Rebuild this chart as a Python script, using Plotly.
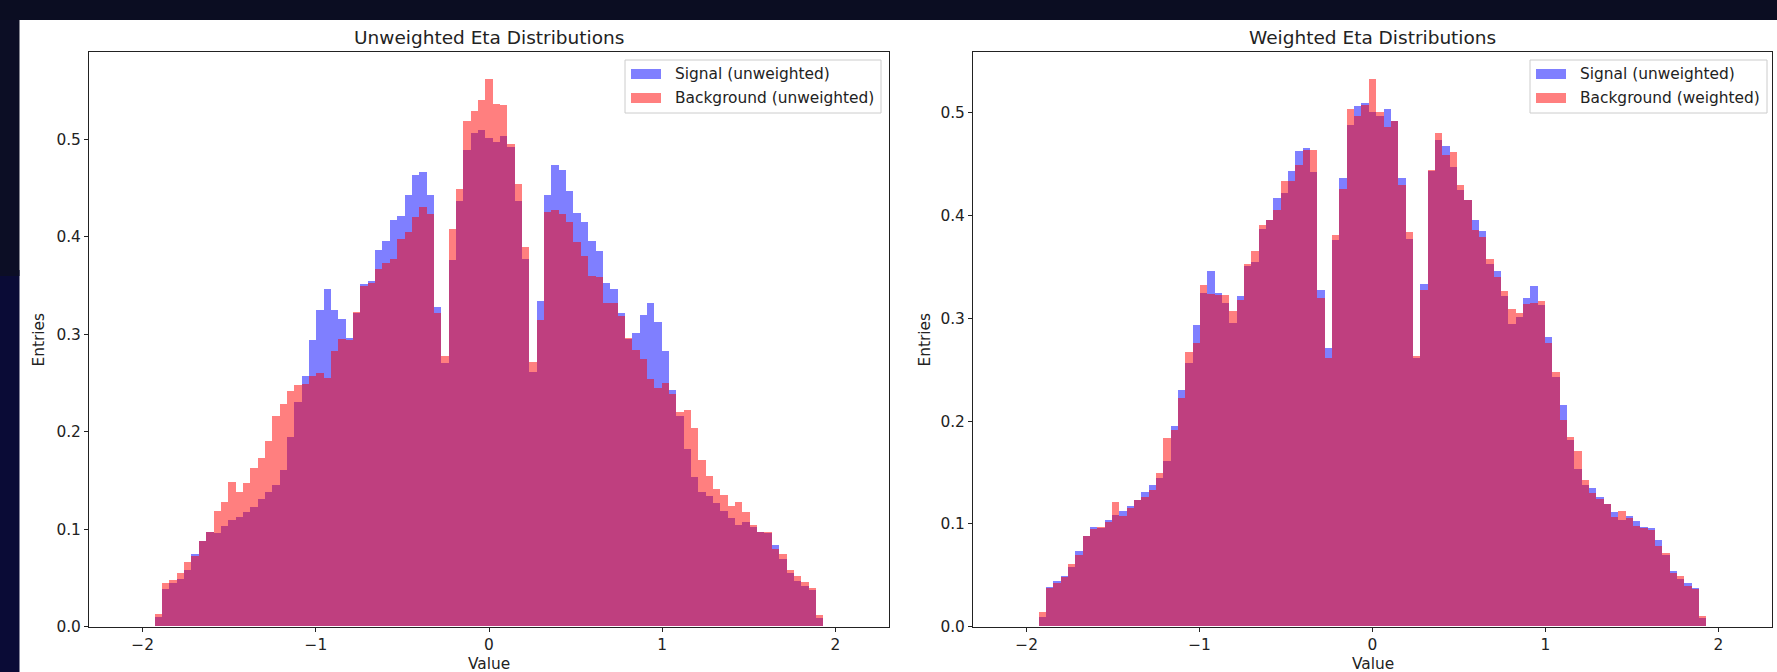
import numpy as np
import plotly.graph_objects as go

# Histogram binning: 99 equal bins on [-2.1, 2.1]; only bins 4..94 are populated
BIN_EDGES = np.linspace(-2.1, 2.1, 100)
FIRST_FILLED_BIN = 4

# Normalised entries per populated bin
signal = [
    0.0095, 0.0379, 0.0446, 0.0489, 0.0581, 0.0738, 0.0881, 0.0969, 0.0958, 0.1034,
    0.1088, 0.1127, 0.1174, 0.1226, 0.1307, 0.1376, 0.1446, 0.1609, 0.1947, 0.2301,
    0.2567, 0.2934, 0.3249, 0.3459, 0.3245, 0.3151, 0.2957, 0.3218, 0.3511, 0.3542,
    0.3865, 0.3955, 0.4174, 0.4216, 0.4428, 0.4630, 0.4659, 0.4426, 0.3274, 0.2706,
    0.3763, 0.4367, 0.4884, 0.5067, 0.5094, 0.5007, 0.4969, 0.5034, 0.4922, 0.4367,
    0.3766, 0.2614, 0.3335, 0.4428, 0.4732, 0.4679, 0.4472, 0.4244, 0.4149, 0.3955,
    0.3847, 0.3523, 0.3459, 0.3218, 0.2944, 0.3015, 0.3196, 0.3317, 0.3126, 0.2821,
    0.2430, 0.2157, 0.1819, 0.1530, 0.1374, 0.1343, 0.1264, 0.1187, 0.1113, 0.1039,
    0.1071, 0.1022, 0.0964, 0.0957, 0.0838, 0.0694, 0.0543, 0.0464, 0.0419, 0.0373,
    0.0083,
]

background_unweighted = [
    0.0129, 0.0443, 0.0480, 0.0543, 0.0657, 0.0720, 0.0879, 0.0971, 0.1182, 0.1274,
    0.1477, 0.1374, 0.1470, 0.1625, 0.1728, 0.1902, 0.2160, 0.2278, 0.2411, 0.2474,
    0.2485, 0.2566, 0.2596, 0.2548, 0.2825, 0.2947, 0.2936, 0.3231, 0.3493, 0.3523,
    0.3663, 0.3730, 0.3767, 0.3977, 0.4044, 0.4202, 0.4302, 0.4228, 0.3213, 0.2770,
    0.4080, 0.4487, 0.5181, 0.5288, 0.5399, 0.5613, 0.5362, 0.5347, 0.4948, 0.4535,
    0.3888, 0.2714, 0.3139, 0.4254, 0.4273, 0.4228, 0.4147, 0.3944, 0.3796, 0.3593,
    0.3582, 0.3316, 0.3316, 0.3187, 0.2962, 0.2836, 0.2740, 0.2537, 0.2448, 0.2493,
    0.2382, 0.2197, 0.2216, 0.2031, 0.1706, 0.1540, 0.1411, 0.1348, 0.1237, 0.1274,
    0.1171, 0.1045, 0.0971, 0.0968, 0.0794, 0.0739, 0.0580, 0.0517, 0.0454, 0.0399,
    0.0122,
]

background_weighted = [
    0.0140, 0.0378, 0.0420, 0.0480, 0.0606, 0.0694, 0.0883, 0.0949, 0.0970, 0.1016,
    0.1208, 0.1079, 0.1149, 0.1226, 0.1261, 0.1331, 0.1489, 0.1832, 0.1909, 0.2224,
    0.2673, 0.2757, 0.3327, 0.3233, 0.3222, 0.3222, 0.3065, 0.3180, 0.3527, 0.3650,
    0.3905, 0.3958, 0.4056, 0.4333, 0.4336, 0.4490, 0.4641, 0.4641, 0.3194, 0.2616,
    0.3807, 0.4256, 0.5033, 0.4963, 0.5079, 0.5324, 0.5009, 0.4862, 0.4914, 0.4298,
    0.3835, 0.2634, 0.3275, 0.4438, 0.4799, 0.4588, 0.4613, 0.4291, 0.4151, 0.3860,
    0.3790, 0.3573, 0.3398, 0.3264, 0.3089, 0.3047, 0.3135, 0.3152, 0.3163, 0.2760,
    0.2476, 0.2007, 0.1839, 0.1709, 0.1429, 0.1296, 0.1243, 0.1191, 0.1061, 0.1121,
    0.1058, 0.0981, 0.0956, 0.0935, 0.0781, 0.0718, 0.0518, 0.0490, 0.0392, 0.0368,
    0.0098,
]

panel_titles = ["Unweighted Eta Distributions", "Weighted Eta Distributions"]
legend_labels = [
    ["Signal (unweighted)", "Background (unweighted)"],
    ["Signal (unweighted)", "Background (weighted)"],
]
x_ticks = [-2, -1, 0, 1, 2]

# ---------------------------------------------------------------------------
W, H = 1777, 672
FONT = "DejaVu Sans"
SMALL = 15.4
LARGE = 18.5
TEXT_COLOR = "#222"
SIG_COLOR = "rgba(0,0,255,0.5)"
BKG_COLOR = "rgba(255,0,0,0.5)"


def px(x):
    return x / W


def py(y):
    return 1 - y / H


bin_width = BIN_EDGES[1] - BIN_EDGES[0]
n_filled = len(signal)
centers = BIN_EDGES[FIRST_FILLED_BIN:FIRST_FILLED_BIN + n_filled] + bin_width / 2
span = BIN_EDGES[-1] - BIN_EDGES[0]
x_range = [BIN_EDGES[0] - 0.05 * span, BIN_EDGES[-1] + 0.05 * span]

fig = go.Figure()

panels = [
    dict(xa="x", ya="y", bkg=background_unweighted, left=89, right=889, ylab_x=38),
    dict(xa="x2", ya="y2", bkg=background_weighted, left=973, right=1772, ylab_x=924),
]
top_px, bottom_px = 52.3, 626.7

for i, p in enumerate(panels):
    fig.add_trace(go.Bar(x=centers, y=signal, width=bin_width, marker_color=SIG_COLOR,
                         marker_line_width=0, xaxis=p["xa"], yaxis=p["ya"],
                         name=legend_labels[i][0], showlegend=False))
    fig.add_trace(go.Bar(x=centers, y=p["bkg"], width=bin_width, marker_color=BKG_COLOR,
                         marker_line_width=0, xaxis=p["xa"], yaxis=p["ya"],
                         name=legend_labels[i][1], showlegend=False))

axis_common = dict(
    showline=True, linecolor=TEXT_COLOR, linewidth=1, mirror=True,
    ticks="outside", ticklen=4, tickcolor=TEXT_COLOR, tickwidth=1,
    showgrid=False, zeroline=False, automargin=False,
    tickfont=dict(family=FONT, size=SMALL, color=TEXT_COLOR),
)

layout_axes = {}
for i, p in enumerate(panels):
    suffix = "" if i == 0 else "2"
    ymax = 1.05 * max(max(signal), max(p["bkg"]))
    layout_axes["xaxis" + suffix] = dict(
        axis_common, domain=[px(p["left"]), px(p["right"])], range=x_range,
        tickvals=x_ticks, anchor="y" + suffix,
    )
    layout_axes["yaxis" + suffix] = dict(
        axis_common, domain=[py(bottom_px), py(top_px)], range=[0, ymax],
        dtick=0.1, tick0=0, tickformat=".1f", anchor="x" + suffix,
    )

annotations = []
shapes = []

# screen backdrop around the figure
shapes.append(dict(type="rect", xref="paper", yref="paper", x0=0, x1=px(19.5), y0=0, y1=py(270),
                   fillcolor="#0a0b36", line_width=0, layer="below"))
shapes.append(dict(type="rect", xref="paper", yref="paper", x0=0, x1=px(19.5), y0=py(276), y1=1,
                   fillcolor="#0c0e25", line_width=0, layer="below"))
shapes.append(dict(type="rect", xref="paper", yref="paper", x0=0, x1=1, y0=py(20), y1=1,
                   fillcolor="#0b0d22", line_width=0, layer="below"))

legend_boxes = [(625, 881), (1530, 1767)]
for i, p in enumerate(panels):
    cx = (p["left"] + p["right"]) / 2
    annotations.append(dict(text=panel_titles[i], x=px(cx), y=py(37), xref="paper", yref="paper",
                            xanchor="center", yanchor="middle", showarrow=False,
                            font=dict(family=FONT, size=LARGE, color=TEXT_COLOR)))
    annotations.append(dict(text="Value", x=px(cx), y=py(664), xref="paper", yref="paper",
                            xanchor="center", yanchor="middle", showarrow=False,
                            font=dict(family=FONT, size=SMALL, color=TEXT_COLOR)))
    annotations.append(dict(text="Entries", x=px(p["ylab_x"]), y=py((top_px + bottom_px) / 2),
                            xref="paper", yref="paper", textangle=-90,
                            xanchor="center", yanchor="middle", showarrow=False,
                            font=dict(family=FONT, size=SMALL, color=TEXT_COLOR)))

    # legend frame, swatches and labels
    lx0, lx1 = legend_boxes[i]
    shapes.append(dict(type="rect", xref="paper", yref="paper",
                       x0=px(lx0), x1=px(lx1), y0=py(113), y1=py(60),
                       fillcolor="rgba(255,255,255,0.8)", line=dict(color="#cccccc", width=1),
                       layer="above"))
    for k, (label, color) in enumerate(zip(legend_labels[i], [SIG_COLOR, BKG_COLOR])):
        yc = 74 + 24 * k
        shapes.append(dict(type="rect", xref="paper", yref="paper",
                           x0=px(lx0 + 6), x1=px(lx0 + 36), y0=py(yc + 5), y1=py(yc - 5),
                           fillcolor=color, line_width=0, layer="above"))
        annotations.append(dict(text=label, x=px(lx0 + 48), y=py(yc), xref="paper", yref="paper",
                                xanchor="left", yanchor="middle", showarrow=False,
                                font=dict(family=FONT, size=SMALL, color=TEXT_COLOR)))

fig.update_layout(
    width=W, height=H,
    margin=dict(l=0, r=0, t=0, b=0, autoexpand=False),
    paper_bgcolor="white", plot_bgcolor="white",
    barmode="overlay", bargap=0,
    showlegend=False,
    annotations=annotations, shapes=shapes,
    **layout_axes,
)

fig.write_html("out.html")
